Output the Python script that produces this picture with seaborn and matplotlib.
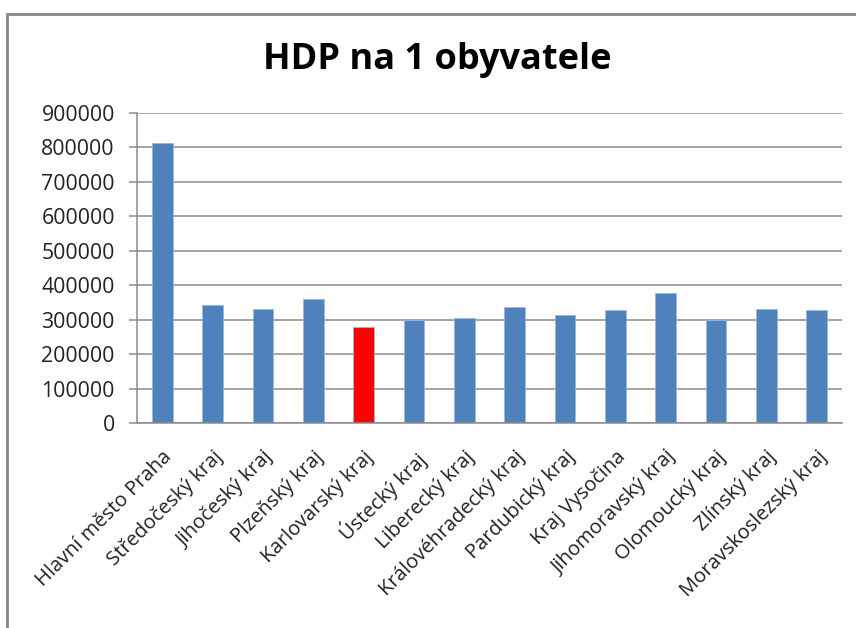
import matplotlib
matplotlib.use("Agg")
import matplotlib.pyplot as plt
import seaborn as sns
import pandas as pd

regions = ["Hlavní město Praha", "Středočeský kraj", "Jihočeský kraj", "Plzeňský kraj",
           "Karlovarský kraj", "Ústecký kraj", "Liberecký kraj", "Královéhradecký kraj",
           "Pardubický kraj", "Kraj Vysočina", "Jihomoravský kraj", "Olomoucký kraj",
           "Zlínský kraj", "Moravskoslezský kraj"]
hdp = [812000, 342000, 330000, 359000, 278000, 299000, 304000, 336500,
       312500, 327000, 379000, 299000, 330000, 327000]
highlight = "Karlovarský kraj"
yticks = [0, 100000, 200000, 300000, 400000, 500000, 600000, 700000, 800000, 900000]
title = "HDP na 1 obyvatele"

sns.set_theme(style="white")
plt.rcParams['font.family'] = ['Open Sans', 'DejaVu Sans']

df = pd.DataFrame({"kraj": regions, "hdp": hdp})
df["grp"] = ["hl" if r == highlight else "n" for r in regions]

fig = plt.figure(figsize=(8.56, 6.28), dpi=100)
ax = fig.add_axes([137/856, 1-423.3/628, (842-137)/856, (423.3-112.7)/628])

sns.barplot(data=df, x="kraj", y="hdp", hue="grp", palette={"n": "#4F81BD", "hl": "#FF0000"},
            dodge=False, width=0.41, legend=False, ax=ax, saturation=1,
            edgecolor="#9DB6DA", linewidth=0.6)

ax.set_ylim(0, 900000)
ax.set_xlim(-0.5, len(regions) - 0.5)
ax.set_yticks(yticks)
ax.set_yticklabels([str(v) for v in yticks], fontsize=15.3, color="#222222")
ax.set_xlabel("")
ax.set_ylabel("")
ax.yaxis.grid(True, color="#8C8C8C", linewidth=1.1)
ax.set_axisbelow(True)
for s in ["top", "right"]:
    ax.spines[s].set_visible(False)
for s in ["left", "bottom"]:
    ax.spines[s].set_color("#8C8C8C")
    ax.spines[s].set_linewidth(1.1)

ax.set_xticks(range(len(regions)))
ax.set_xticklabels(regions, rotation=45, ha="right", rotation_mode="anchor",
                   fontsize=14.5, color="#222222")
ax.tick_params(axis="x", which="major", length=0, pad=17)
ax.set_xticks([i + 0.5 for i in range(-1, len(regions))], minor=True)
ax.tick_params(axis="x", which="minor", length=6, color="#8C8C8C", width=1.1, direction="out")
ax.tick_params(axis="y", length=6, color="#8C8C8C", width=1.1, direction="out", left=True, pad=10)

fig.text(0.511, 0.905, title, ha="center", va="center", fontsize=26, fontweight="bold", color="#000000")

border = plt.Rectangle((7/856, -0.01), 1.0, (628-14)/628 + 0.01, transform=fig.transFigure,
                       fill=False, edgecolor="#868686", linewidth=2)
fig.add_artist(border)

fig.savefig("out.png", dpi=100)
